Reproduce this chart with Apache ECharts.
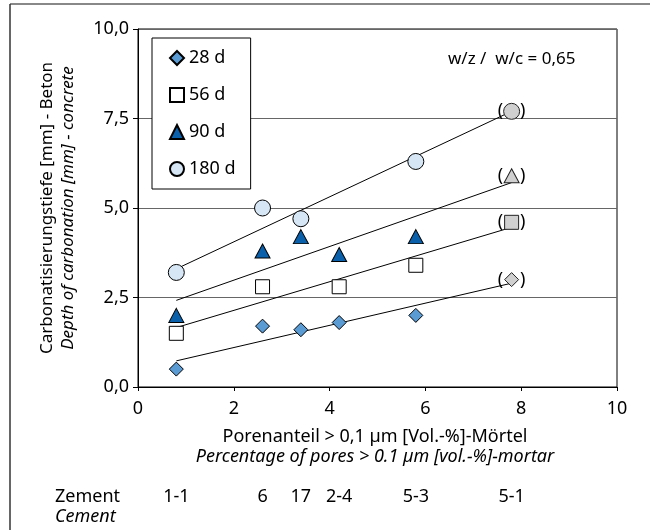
<!DOCTYPE html>
<html><head><meta charset="utf-8">
<script src="https://cdn.jsdelivr.net/npm/echarts@6/dist/echarts.min.js"></script>
<style>html,body{margin:0;padding:0;background:#fff}#c{width:650px;height:530px}</style>
</head><body><div id="c"></div>
<script>
// ---- data ----
const seriesNames = ['28 d', '56 d', '90 d', '180 d'];
const d28  = [[0.8, 0.5], [2.6, 1.7], [3.4, 1.6], [4.2, 1.8], [5.8, 2.0]];
const d56  = [[0.8, 1.5], [2.6, 2.8], [4.2, 2.8], [5.8, 3.4]];
const d90  = [[0.8, 2.0], [2.6, 3.8], [3.4, 4.2], [4.2, 3.7], [5.8, 4.2]];
const d180 = [[0.8, 3.2], [2.6, 5.0], [3.4, 4.7], [5.8, 6.3]];
// bracketed (extrapolated) values at 7.8
const b28 = [[7.8, 3.0]];
const b56 = [[7.8, 4.6]];
const b90 = [[7.8, 5.9]];
const b180 = [[7.8, 7.7]];
// trend lines (start, end)
const t28  = [[0.8, 0.73], [7.8, 2.9]];
const t56  = [[0.8, 1.66], [7.8, 4.46]];
const t90  = [[0.8, 2.42], [7.8, 5.71]];
const t180 = [[0.8, 3.3], [7.8, 7.7]];
const cementX = [0.8, 2.6, 3.4, 4.2, 5.8, 7.8];
const cementLabels = ['1-1', '6', '17', '2-4', '5-3', '5-1'];
const yTicks = ['0,0', '2,5', '5,0', '7,5', '10,0'];

const FONT = 'Noto Sans';
const FS = 18;
const chart = echarts.init(document.getElementById('c'));
const symbols = ['diamond', 'rect', 'triangle', 'circle'];
const fills = ['#5b9bd3', '#ffffff', '#0a60aa', '#d6e6f4'];
const sizes = [[14, 14], [14, 14], [15, 14], [16, 16]];
const mains = [d28, d56, d90, d180];
const brs = [b28, b56, b90, b180];
const trends = [t28, t56, t90, t180];

const series = [];
trends.forEach((t, i) => series.push({
  type: 'line', name: 'trend' + i, data: t, symbol: 'none', silent: true, z: 1,
  lineStyle: { color: '#000', width: 1 }
}));
mains.forEach((d, i) => series.push({
  type: 'scatter', name: seriesNames[i], data: d, symbol: symbols[i], symbolSize: sizes[i], z: 3,
  itemStyle: { color: fills[i], borderColor: '#000', borderWidth: 1, opacity: 1 }
}));
brs.forEach((d, i) => series.push({
  type: 'scatter', name: 'br' + i, data: d, symbol: symbols[i], symbolSize: sizes[i], z: 3,
  itemStyle: { color: '#d0d0d0', borderColor: '#222', borderWidth: 1, opacity: 1 },
  label: { show: true, position: 'inside', formatter: '{p|(}{s|}{p|)}',
    rich: { p: { fontSize: 18, fontFamily: FONT, color: '#000' }, s: { width: 17 } } }
}));

chart.setOption({
  animation: false,
  grid: { left: 138, right: 33, top: 29, bottom: 143, show: true, borderColor: '#000', borderWidth: 1 },
  legend: {
    data: seriesNames, orient: 'vertical', left: 152, top: 38,
    padding: [11, 15, 11, 17], itemGap: 19, itemWidth: 14, itemHeight: 14,
    backgroundColor: '#fff', borderColor: '#000', borderWidth: 1,
    textStyle: { fontFamily: FONT, fontSize: FS, color: '#000' }
  },
  xAxis: {
    type: 'value', min: 0, max: 10, interval: 2,
    axisLine: { lineStyle: { color: '#000', width: 1 } },
    axisTick: { show: true, length: 4, lineStyle: { color: '#000' } },
    axisLabel: { margin: 13, fontFamily: FONT, fontSize: FS, color: '#000' },
    splitLine: { show: false }
  },
  yAxis: {
    type: 'value', min: 0, max: 10, interval: 2.5,
    axisLine: { show: true, lineStyle: { color: '#000', width: 1 } },
    axisTick: { show: true, length: 5, lineStyle: { color: '#000' } },
    axisLabel: { margin: 9, fontFamily: FONT, fontSize: FS, color: '#000',
      formatter: v => yTicks[Math.round(v / 2.5)] },
    splitLine: { show: true, lineStyle: { color: '#666', width: 1 } }
  },
  series: series
});

const f = (s, it) => (it ? 'italic ' : '') + s + 'px "' + FONT + '"';
const g = [
  { type: 'line', shape: { x1: 10, y1: 4, x2: 650, y2: 4 }, style: { stroke: '#888', lineWidth: 2 } },
  { type: 'line', shape: { x1: 10, y1: 4, x2: 10, y2: 530 }, style: { stroke: '#333', lineWidth: 1.5 } },
  { type: 'text', x: 448, y: 59, style: { text: 'w/z /  w/c = 0,65', font: f(17), fill: '#000', verticalAlign: 'middle' } },
  { type: 'text', x: 375, y: 437, style: { text: 'Porenanteil > 0,1 µm [Vol.-%]-Mörtel', font: f(FS), fill: '#000', align: 'center', verticalAlign: 'middle' } },
  { type: 'text', x: 375, y: 457, style: { text: 'Percentage of pores > 0.1 µm [vol.-%]-mortar', font: f(FS, 1), fill: '#000', align: 'center', verticalAlign: 'middle' } },
  { type: 'text', x: 47, y: 208, rotation: Math.PI / 2, style: { text: 'Carbonatisierungstiefe [mm] - Beton', font: f(17), fill: '#000', align: 'center', verticalAlign: 'middle' } },
  { type: 'text', x: 68, y: 208, rotation: Math.PI / 2, style: { text: 'Depth of carbonation [mm] - concrete', font: f(17, 1), fill: '#000', align: 'center', verticalAlign: 'middle' } },
  { type: 'text', x: 55, y: 497, style: { text: 'Zement', font: f(FS), fill: '#000', verticalAlign: 'middle' } },
  { type: 'text', x: 55, y: 517, style: { text: 'Cement', font: f(FS, 1), fill: '#000', verticalAlign: 'middle' } }
];
cementX.forEach((x, i) => {
  const px = chart.convertToPixel({ gridIndex: 0 }, [x, 0])[0];
  g.push({ type: 'text', x: px, y: 497, style: { text: cementLabels[i], font: f(FS), fill: '#000', align: 'center', verticalAlign: 'middle' } });
});
chart.setOption({ graphic: g });
</script>
</body></html>
